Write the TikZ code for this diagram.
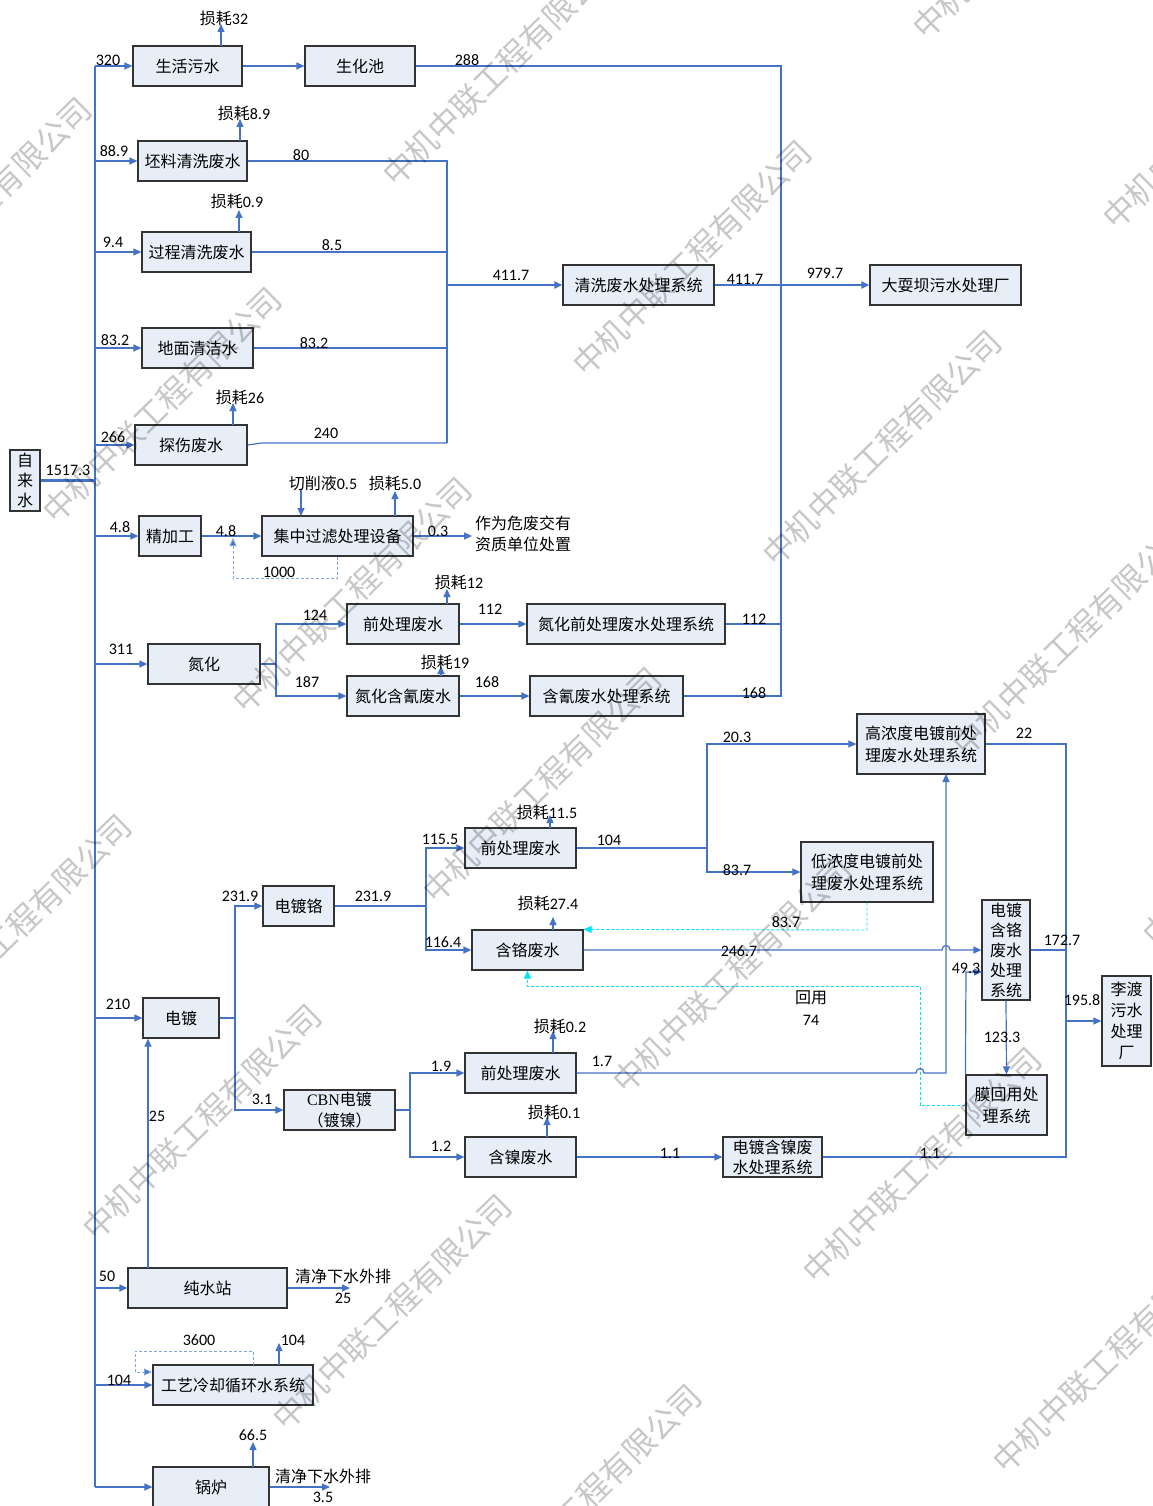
\documentclass[tikz,border=0pt]{standalone}
\usepackage{fontspec}
\setmainfont{Carlito}
\newfontfamily\cjk{Noto Sans CJK SC}
\newfontfamily\tnr{Liberation Serif}
\usetikzlibrary{arrows.meta}
\definecolor{boxfill}{RGB}{232,238,248}
\definecolor{lineblue}{RGB}{68,114,196}
\definecolor{dashblue}{RGB}{130,165,220}
\definecolor{cyanline}{RGB}{0,225,255}
\newcommand\fs{\fontsize{16}{20}\selectfont}
\newcommand\zh[1]{{\cjk #1}}
\begin{document}
\begin{tikzpicture}[x=1pt,y=-1pt,
  box/.style={draw=black!80, line width=1.2pt, fill=boxfill, inner sep=0pt, font=\cjk\fs, align=center},
  ln/.style={draw=lineblue, line width=1.2pt},
  tip/.style={-{Triangle[length=8pt,width=7pt]}},
  arr/.style={ln, tip},
  lbl/.style={inner sep=0pt, font=\fs},
  dsh/.style={draw=dashblue, line width=0.9pt, dash pattern=on 3pt off 2pt, -{Triangle[length=8pt,width=7pt,fill=lineblue]}},
  cdsh/.style={draw=cyanline, line width=0.9pt, dash pattern=on 3pt off 2pt, -{Triangle[length=8pt,width=7pt]}},
  wm/.style={inner sep=0pt, font=\cjk\fontsize{32}{32}\selectfont, text=black, text opacity=0.22, rotate=44.4}
]
\useasboundingbox (0,0) rectangle (1152,1506);

% ---------- boxes ----------
\node[box, minimum width=30pt, minimum height=61pt, font=\cjk\fontsize{16}{20}\selectfont] (zls) at (25,480.5) {自\\来\\水};
\node[box, minimum width=109pt, minimum height=40pt] (shws) at (187.5,66) {生活污水};
\node[box, minimum width=110pt, minimum height=40pt] (shc) at (360,66) {生化池};
\node[box, minimum width=109pt, minimum height=40pt] (plqx) at (192.5,161) {坯料清洗废水};
\node[box, minimum width=109pt, minimum height=40pt] (gcqx) at (196.5,252) {过程清洗废水};
\node[box, minimum width=111pt, minimum height=40pt] (dmqj) at (197.5,348) {地面清洁水};
\node[box, minimum width=112pt, minimum height=40pt] (tsfs) at (191,445) {探伤废水};
\node[box, minimum width=151pt, minimum height=40pt] (qxcl) at (638.5,285) {清洗废水处理系统};
\node[box, minimum width=151pt, minimum height=40pt] (dsb) at (945.5,285) {大耍坝污水处理厂};
\node[box, minimum width=62pt, minimum height=40pt] (jjg) at (170,536) {精加工};
\node[box, minimum width=151pt, minimum height=40pt] (jzgl) at (337.5,536) {集中过滤处理设备};
\node[box, minimum width=112pt, minimum height=40pt] (dh) at (204,664) {氮化};
\node[box, minimum width=112pt, minimum height=40pt] (qcla) at (403,624) {前处理废水};
\node[box, minimum width=112pt, minimum height=40pt] (dhqh) at (403,696) {氮化含氰废水};
\node[box, minimum width=198pt, minimum height=40pt] (dhqcl) at (626,624) {氮化前处理废水处理系统};
\node[box, minimum width=153pt, minimum height=40pt] (qfcl) at (606.5,696) {含氰废水处理系统};
\node[box, minimum width=128pt, minimum height=60pt, font=\cjk\fontsize{16}{22}\selectfont] (gnd) at (921,744) {高浓度电镀前处\\理废水处理系统};
\node[box, minimum width=111pt, minimum height=40pt] (qclb) at (520.5,848) {前处理废水};
\node[box, minimum width=132pt, minimum height=60pt, font=\cjk\fontsize{16}{22}\selectfont] (dnd) at (867,872) {低浓度电镀前处\\理废水处理系统};
\node[box, minimum width=71pt, minimum height=40pt] (ddg) at (298.5,906) {电镀铬};
\node[box, minimum width=111pt, minimum height=40pt] (hgfs) at (527.5,950) {含铬废水};
\node[box, minimum width=48pt, minimum height=100pt, font=\cjk\fontsize{16}{20}\selectfont] (ddhg) at (1006,950) {电镀\\含铬\\废水\\处理\\系统};
\node[box, minimum width=76pt, minimum height=40pt] (dd) at (181,1018) {电镀};
\node[box, minimum width=49pt, minimum height=90pt, font=\cjk\fontsize{16}{21}\selectfont] (ld) at (1126.5,1021) {李渡\\污水\\处理\\厂};
\node[box, minimum width=111pt, minimum height=40pt, font=\cjk\fontsize{16}{21}\selectfont] (cbn) at (339.5,1110) {{\tnr CBN}电镀\\（镀镍）};
\node[box, minimum width=111pt, minimum height=40pt] (qclc) at (520.5,1073) {前处理废水};
\node[box, minimum width=111pt, minimum height=40pt] (hnfs) at (520.5,1157) {含镍废水};
\node[box, minimum width=99pt, minimum height=40pt, font=\cjk\fontsize{16}{20}\selectfont] (ddhn) at (772.5,1157) {电镀含镍废\\水处理系统};
\node[box, minimum width=81pt, minimum height=60pt, font=\cjk\fontsize{16}{22}\selectfont] (mhy) at (1006.5,1105) {膜回用处\\理系统};
\node[box, minimum width=159pt, minimum height=40pt] (csz) at (207.5,1288) {纯水站};
\node[box, minimum width=160pt, minimum height=40pt] (gylq) at (233,1385) {工艺冷却循环水系统};
\node[box, minimum width=116pt, minimum height=40pt] (gl) at (211,1487) {锅炉};

% ---------- trunk ----------
\coordinate (t0) at (95,66);
\coordinate (t1) at (95,1487);
\coordinate (cL) at (447,0);
\coordinate (cR) at (781,0);
\coordinate (cE) at (1066,0);
\draw[ln] (t0) -- (t1);
\draw[ln, line width=2.5pt] (zls.east) -- (zls.east -| t0);
\foreach \b in {shws,plqx,gcqx,dmqj,tsfs,jjg,dh,dd,csz,gylq,gl}{
  \draw[arr] (\b.west -| t0) -- (\b.west);
}

% ---------- top part ----------
\draw[arr] (shws.east) -- (shc.west);
\draw[ln] (shc.east) -- (shc.east -| cR) -- (qfcl.east -| cR) -- (qfcl.east);
\draw[ln] (dhqcl.east) -- (dhqcl.east -| cR);
\draw[ln] (plqx.east) -- (plqx.east -| cL) -- (447,443);
\draw[ln] (gcqx.east) -- (gcqx.east -| cL);
\draw[ln] (dmqj.east) -- (dmqj.east -| cL);
\draw[ln] (tsfs.east) -- (262,443) -- (447,443);
\draw[arr, line width=2pt] (qxcl.west -| cL) -- (qxcl.west);
\draw[ln, line width=2pt] (qxcl.east) -- (qxcl.east -| cR);
\draw[arr, line width=2pt] (qxcl.east -| cR) -- (dsb.west);

% loss arrows
\draw[arr] (221,46) -- (221,24);
\draw[arr] (240,141) -- (240,119);
\draw[arr] (239,232) -- (239,210);
\draw[arr] (233,425) -- (233,403);

% ---------- machining ----------
\draw[arr] (jjg.east) -- (jzgl.west);
\draw[dsh] (jzgl.south) -- (337.5,578) -- (233,578) -- (233,538);
\draw[arr] (301,490) -- (301,516);
\draw[arr] (395,516) -- (395,491);
\draw[arr] (jzgl.east) -- (472,536);

% ---------- nitriding ----------
\draw[ln] (dh.east) -- (276,664);
\draw[arr] (276,664) -- (276,624) -- (qcla.west);
\draw[arr] (276,664) -- (276,696) -- (dhqh.west);
\draw[arr] (qcla.east) -- (dhqcl.west);
\draw[arr] (dhqh.east) -- (qfcl.west);
\draw[arr] (447,604) -- (447,589);
\draw[arr] (441,676) -- (441,666);

% ---------- plating ----------
\draw[ln] (dd.east) -- (235,1018);
\draw[arr] (235,1018) -- (235,906) -- (ddg.west);
\draw[arr] (235,1018) -- (235,1110) -- (cbn.west);
\draw[ln] (ddg.east) -- (426,906);
\draw[arr] (426,906) -- (426,848) -- (qclb.west);
\draw[arr] (426,906) -- (426,950) -- (hgfs.west);
\draw[ln] (qclb.east) -- (707,848);
\draw[arr] (707,848) -- (707,744) -- (gnd.west);
\draw[arr] (707,848) -- (707,872) -- (dnd.west);
\draw[arr] (550,828) -- (550,815);
\draw[arr] (553,930) -- (553,917);
\draw[cdsh] (dnd.south) -- (867,930) -- (hgfs.north east);
\draw[arr] (hgfs.east) -- (942,950) .. controls (942,944) and (950,944) .. (950,950) -- (ddhg.west);
\draw[ln] (gnd.east) -- (gnd.east -| cE) -- (ddhn.east -| cE) -- (ddhn.east);
\draw[ln] (ddhg.east) -- (ddhg.east -| cE);
\draw[arr] (ld.west -| cE) -- (ld.west);
\draw[arr] (ddhg.south) -- (mhy.north);
\draw[arr] (mhy.north west) -- (966,972) -- (982,972);
\draw[cdsh] (mhy.west) -- (920,1105) -- (920,986) -- (527.5,986) -- (hgfs.south);
\draw[ln] (cbn.east) -- (410,1110);
\draw[arr] (410,1110) -- (410,1073) -- (qclc.west);
\draw[arr] (410,1110) -- (410,1157) -- (hnfs.west);
\draw[arr] (qclc.east) -- (916,1073) .. controls (916,1067) and (924,1067) .. (924,1073) -- (946,1073) -- (946,774);
\draw[arr] (553,1053) -- (553,1031);
\draw[arr] (547,1137) -- (547,1117);
\draw[arr] (hnfs.east) -- (ddhn.west);

% ---------- utilities ----------
\draw[arr] (csz.east) -- (350,1288);
\draw[arr] (148,1268) -- (dd.south -| 148,0);
\draw[dsh] (253,1365) -- (253,1351) -- (135,1351) -- (135,1372) -- (152,1372);
\draw[arr] (279,1365) -- (279,1343);
\draw[arr] (253,1467) -- (253,1442);
\draw[arr] (gl.east) -- (330,1487);

% ---------- labels ----------
\node[lbl] (n1) at (108,60) {320};
\node[lbl] (n2) at (224,18) {\zh{损耗}32};
\node[lbl] (n3) at (467,60) {288};
\node[lbl] (n4) at (114,151) {88.9};
\node[lbl] (n5) at (244,113) {\zh{损耗}8.9};
\node[lbl] (n6) at (301,155) {80};
\node[lbl] (n7) at (113,242) {9.4};
\node[lbl] (n8) at (237,201) {\zh{损耗}0.9};
\node[lbl] (n9) at (332,245) {8.5};
\node[lbl] (n10) at (115,340) {83.2};
\node[lbl] (n11) at (314,343) {83.2};
\node[lbl] (n12) at (113,437) {266};
\node[lbl] (n13) at (240,397) {\zh{损耗}26};
\node[lbl] (n14) at (326,433) {240};
\node[lbl] (n15) at (68,470) {1517.3};
\node[lbl] (n16) at (511,275) {411.7};
\node[lbl] (n17) at (745,279) {411.7};
\node[lbl] (n18) at (825,273) {979.7};
\node[lbl] (n19) at (120,527) {4.8};
\node[lbl] (n20) at (226,531) {4.8};
\node[lbl] (n21) at (323,483) {\zh{切削液}0.5};
\node[lbl] (n22) at (395,483) {\zh{损耗}5.0};
\node[lbl] (n23) at (438,531) {0.3};
\node[lbl] (n24) at (279,572) {1000};
\node[lbl, font=\cjk\fontsize{16}{21}\selectfont, align=left] (n25) at (523,533.5) {作为危废交有\\资质单位处置};
\node[lbl] (n26) at (121,649) {311};
\node[lbl] (n27) at (315,615) {124};
\node[lbl] (n28) at (307,682) {187};
\node[lbl] (n29) at (459,582) {\zh{损耗}12};
\node[lbl] (n30) at (490,609) {112};
\node[lbl] (n31) at (754,619) {112};
\node[lbl] (n32) at (445,662) {\zh{损耗}19};
\node[lbl] (n33) at (487,682) {168};
\node[lbl] (n34) at (754,693) {168};
\node[lbl] (n35) at (737,737) {20.3};
\node[lbl] (n36) at (1024,733) {22};
\node[lbl] (n37) at (440,839) {115.5};
\node[lbl] (n38) at (547,812) {\zh{损耗}11.5};
\node[lbl] (n39) at (609,840) {104};
\node[lbl] (n40) at (737,870) {83.7};
\node[lbl] (n41) at (240,896) {231.9};
\node[lbl] (n42) at (373,896) {231.9};
\node[lbl] (n43) at (443,942) {116.4};
\node[lbl] (n44) at (548,903) {\zh{损耗}27.4};
\node[lbl] (n45) at (786,922) {83.7};
\node[lbl] (n46) at (739,951) {246.7};
\node[lbl] (n47) at (1062,940) {172.7};
\node[lbl] (n48) at (966,968) {49.3};
\node[lbl] (n49) at (1082,1000) {195.8};
\node[lbl] (n50) at (118,1004) {210};
\node[lbl, font=\cjk\fs] (n51) at (811,998) {回用};
\node[lbl] (n52) at (811,1020) {74};
\node[lbl] (n53) at (1002,1037) {123.3};
\node[lbl] (n54) at (560,1026) {\zh{损耗}0.2};
\node[lbl] (n55) at (441,1066) {1.9};
\node[lbl] (n56) at (602,1061) {1.7};
\node[lbl] (n57) at (262,1099) {3.1};
\node[lbl] (n58) at (157,1116) {25};
\node[lbl] (n59) at (554,1112) {\zh{损耗}0.1};
\node[lbl] (n60) at (441,1146) {1.2};
\node[lbl] (n61) at (670,1153) {1.1};
\node[lbl] (n62) at (930,1153) {1.1};
\node[lbl] (n63) at (107,1276) {50};
\node[lbl, font=\cjk\fs] (n64) at (343,1276) {清净下水外排};
\node[lbl] (n65) at (343,1298) {25};
\node[lbl] (n66) at (199,1340) {3600};
\node[lbl] (n67) at (293,1340) {104};
\node[lbl] (n68) at (119,1380) {104};
\node[lbl] (n69) at (253,1435) {66.5};
\node[lbl, font=\cjk\fs] (n70) at (323,1476) {清净下水外排};
\node[lbl] (n71) at (323,1497) {3.5};

% ---------- watermark ----------
\begin{scope}
\clip (0,0) rectangle (1152,1506);
\foreach \i in {-2,...,6}{
  \foreach \j in {-1,...,2}{
    \node[wm] (wm\i\j) at ({162+190*\i+530*\j},{405+190*\i-147*\j}) {中机中联工程有限公司};
  }
}
\end{scope}
\end{tikzpicture}
\end{document}
